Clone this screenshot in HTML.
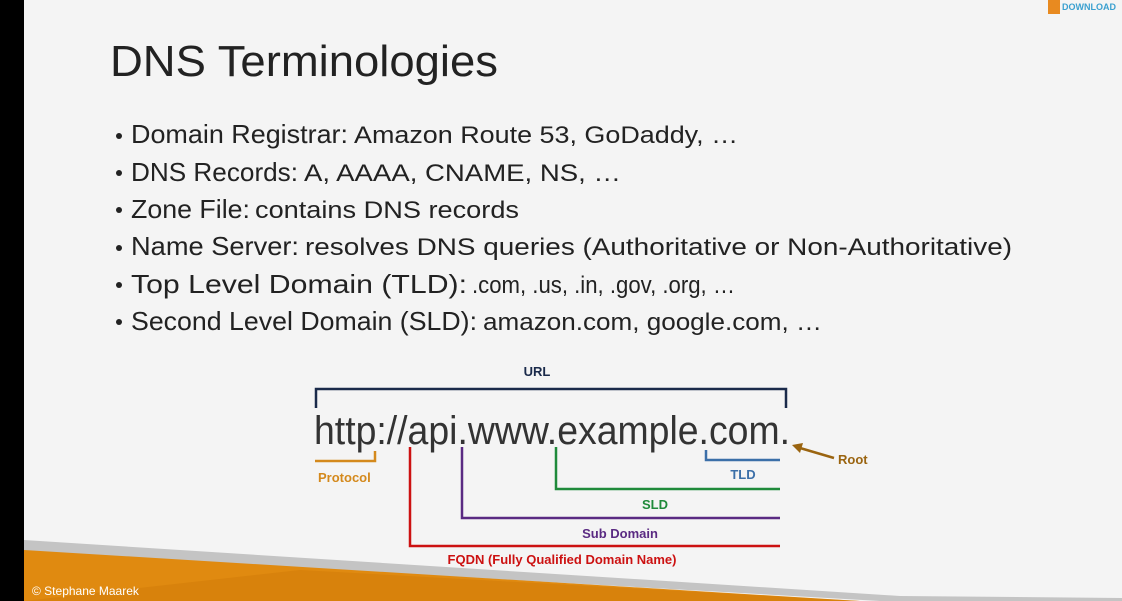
<!DOCTYPE html>
<html><head><meta charset="utf-8"><style>
html,body{margin:0;padding:0;background:#f4f4f4;}
svg{display:block;}
text{font-family:"Liberation Sans",sans-serif;}
</style></head><body>
<svg width="1122" height="601" viewBox="0 0 1122 601" xmlns="http://www.w3.org/2000/svg">
<rect width="1122" height="601" fill="#f4f4f4"/>
<polygon points="24,540 24,552 880,601 1122,601 1122,598 900,596" fill="#c4c4c4"/>
<polygon points="24,550 24,601 860,601" fill="#e08a10"/>
<polygon points="300,570 24,601 860,601" fill="#d07a08" opacity="0.5"/>
<rect x="0" y="0" width="24" height="601" fill="#000"/>
<rect x="1046" y="0" width="76" height="14" fill="#f4f4f4"/>
<rect x="1048" y="0" width="12" height="14" fill="#e88a20"/>
<text x="1062" y="10" font-size="9" fill="#3aa0d0" font-weight="bold">DOWNLOAD</text>
<text x="110" y="76" font-size="44" fill="#222" textLength="388" lengthAdjust="spacingAndGlyphs">DNS Terminologies</text>
<g fill="#222">
<circle cx="119" cy="136" r="3"/><circle cx="119" cy="173" r="3"/><circle cx="119" cy="210" r="3"/>
<circle cx="119" cy="248" r="3"/><circle cx="119" cy="285" r="3"/><circle cx="119" cy="322" r="3"/>
</g>
<g font-size="26" fill="#222">
<text x="131" y="143" textLength="217" lengthAdjust="spacingAndGlyphs">Domain Registrar:</text>
<text x="354" y="143" font-size="24" textLength="384" lengthAdjust="spacingAndGlyphs">Amazon Route 53, GoDaddy, …</text>
<text x="131" y="181" textLength="167" lengthAdjust="spacingAndGlyphs">DNS Records:</text>
<text x="304" y="181" font-size="24" textLength="317" lengthAdjust="spacingAndGlyphs">A, AAAA, CNAME, NS, …</text>
<text x="131" y="218" textLength="119" lengthAdjust="spacingAndGlyphs">Zone File:</text>
<text x="255" y="218" font-size="24" textLength="264" lengthAdjust="spacingAndGlyphs">contains DNS records</text>
<text x="131" y="255" textLength="168" lengthAdjust="spacingAndGlyphs">Name Server:</text>
<text x="305" y="255" font-size="24" textLength="707" lengthAdjust="spacingAndGlyphs">resolves DNS queries (Authoritative or Non-Authoritative)</text>
<text x="131" y="293" textLength="336" lengthAdjust="spacingAndGlyphs">Top Level Domain (TLD):</text>
<text x="472" y="293" font-size="24" textLength="263" lengthAdjust="spacingAndGlyphs">.com, .us, .in, .gov, .org, …</text>
<text x="131" y="330" textLength="346" lengthAdjust="spacingAndGlyphs">Second Level Domain (SLD):</text>
<text x="483" y="330" font-size="24" textLength="339" lengthAdjust="spacingAndGlyphs">amazon.com, google.com, …</text>
</g>
<g font-weight="bold" font-size="13">
<text x="537" y="376" fill="#1a2a4a" text-anchor="middle">URL</text>
<text x="318" y="482" fill="#d4891c">Protocol</text>
<text x="743" y="479" fill="#3b6fa8" text-anchor="middle">TLD</text>
<text x="655" y="509" fill="#1f8a3a" text-anchor="middle">SLD</text>
<text x="620" y="538" fill="#5a2a82" text-anchor="middle">Sub Domain</text>
<text x="562" y="564" fill="#cc1111" text-anchor="middle">FQDN (Fully Qualified Domain Name)</text>
<text x="838" y="464" fill="#9a6410">Root</text>
</g>
<path d="M316,408 V389 H786 V408" fill="none" stroke="#1a2a4a" stroke-width="2.5"/>
<text x="314" y="444" font-size="40" fill="#333" textLength="476" lengthAdjust="spacingAndGlyphs">http://api.www.example.com.</text>
<path d="M315,461 H375 V451" fill="none" stroke="#d4891c" stroke-width="2.5"/>
<path d="M706,450 V460 H780" fill="none" stroke="#3b6fa8" stroke-width="2.5"/>
<path d="M556,447 V489 H780" fill="none" stroke="#1f8a3a" stroke-width="2.5"/>
<path d="M462,447 V518 H780" fill="none" stroke="#5a2a82" stroke-width="2.5"/>
<path d="M410,447 V546 H780" fill="none" stroke="#cc1111" stroke-width="2.5"/>
<line x1="834" y1="458" x2="800" y2="448" stroke="#9a6410" stroke-width="2.5"/>
<polygon points="792,445 803,443 800,453" fill="#9a6410"/>
<text x="32" y="595" font-size="12" fill="#fff">© Stephane Maarek</text>
</svg>
</body></html>
